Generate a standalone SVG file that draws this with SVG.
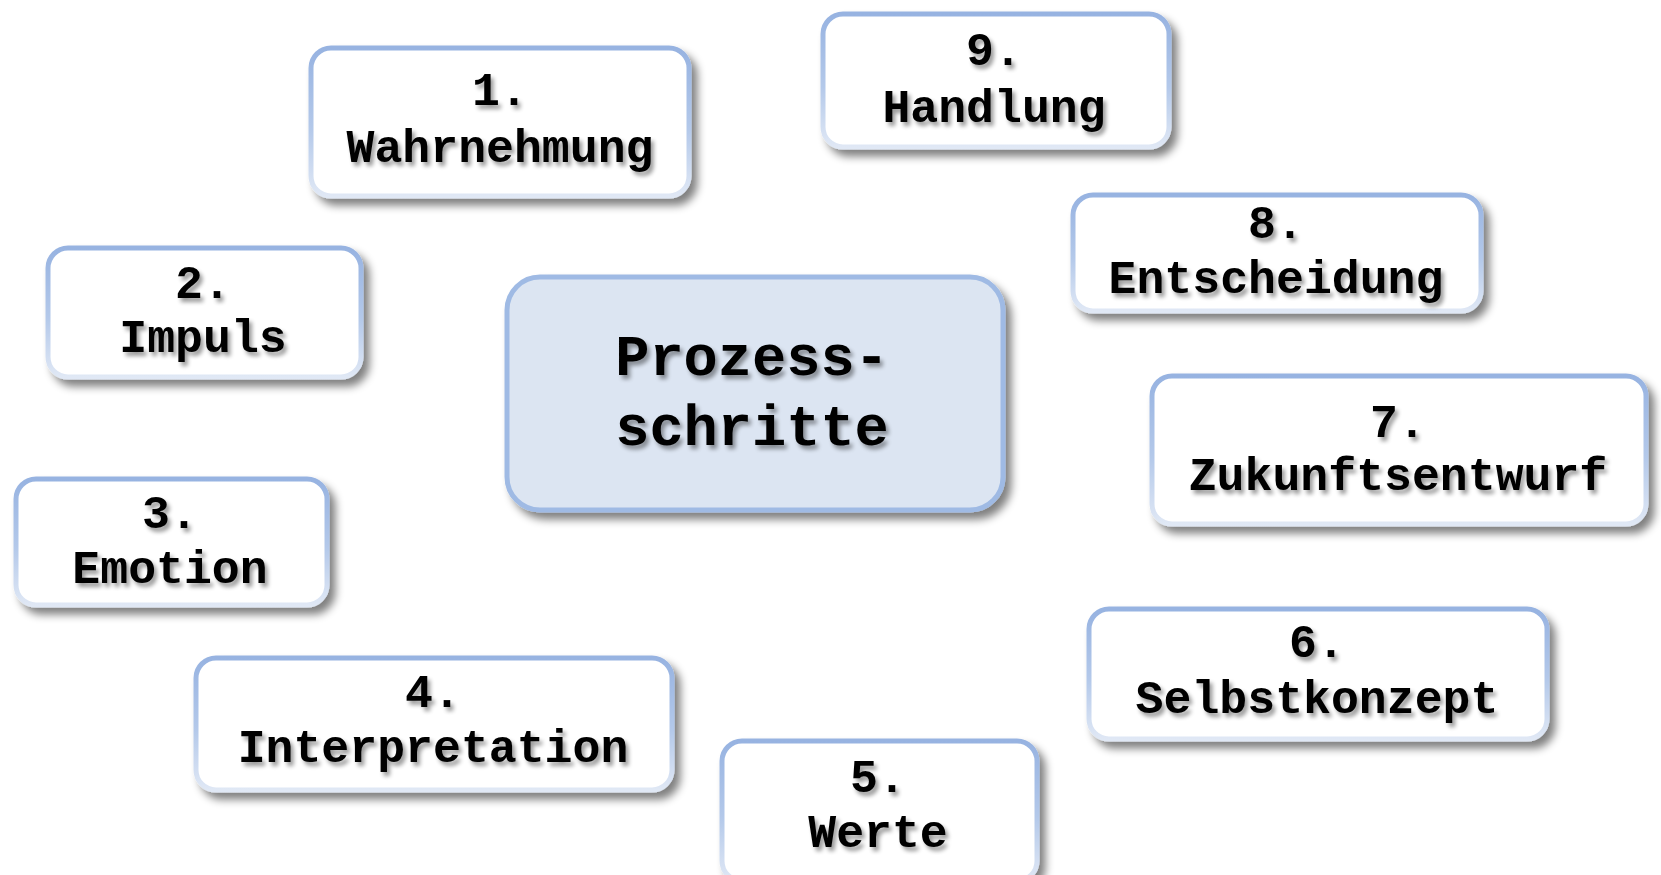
<svg xmlns="http://www.w3.org/2000/svg" width="1661" height="875" viewBox="0 0 1661 875">
<defs>
<linearGradient id="bord" x1="0" y1="0" x2="0" y2="1">
<stop offset="0" stop-color="#97b3e1"/>
<stop offset="0.55" stop-color="#b4c9ea"/>
<stop offset="1" stop-color="#e0e8f5"/>
</linearGradient>
<filter id="boxsh" x="-10%" y="-10%" width="125%" height="130%">
<feGaussianBlur in="SourceAlpha" stdDeviation="4"/>
<feOffset dx="6" dy="7" result="b"/>
<feComponentTransfer><feFuncA type="linear" slope="0.5"/></feComponentTransfer>
<feMerge><feMergeNode/><feMergeNode in="SourceGraphic"/></feMerge>
</filter>
<filter id="txtsh" x="-10%" y="-20%" width="125%" height="150%">
<feGaussianBlur in="SourceAlpha" stdDeviation="2"/>
<feOffset dx="3" dy="4"/>
<feComponentTransfer><feFuncA type="linear" slope="0.4"/></feComponentTransfer>
<feMerge><feMergeNode/><feMergeNode in="SourceGraphic"/></feMerge>
</filter>
</defs>
<style>
.box{fill:#ffffff;stroke:url(#bord);stroke-width:5;filter:url(#boxsh)}
.ctr{fill:#dce5f2;stroke:#9fbae4;stroke-width:5;filter:url(#boxsh)}
.lbl{font-family:"Liberation Mono","Courier New",monospace;font-weight:bold;font-size:46.5px;fill:#000;text-anchor:middle;filter:url(#txtsh)}
.clbl{font-family:"Liberation Mono","Courier New",monospace;font-weight:bold;font-size:57px;fill:#000;text-anchor:middle;filter:url(#txtsh)}
</style>
<rect width="1661" height="875" fill="#ffffff"/>
<g id="connectors"></g>
<g id="center">
<rect class="ctr" x="507" y="277" width="496" height="233" rx="33"/>
<text class="clbl" x="752" y="375">Prozess-</text>
<text class="clbl" x="752" y="445">schritte</text>
</g>
<g id="n1">
<rect class="box" x="311" y="48" width="378" height="148" rx="20"/>
<text class="lbl" x="500" y="105">1.</text>
<text class="lbl" x="500" y="162">Wahrnehmung</text>
</g>
<g id="n2">
<rect class="box" x="48" y="248" width="313" height="129" rx="20"/>
<text class="lbl" x="203" y="298">2.</text>
<text class="lbl" x="203" y="352">Impuls</text>
</g>
<g id="n3">
<rect class="box" x="16" y="479" width="311" height="126" rx="20"/>
<text class="lbl" x="170" y="528">3.</text>
<text class="lbl" x="170" y="583">Emotion</text>
</g>
<g id="n4">
<rect class="box" x="196" y="658" width="476" height="132" rx="20"/>
<text class="lbl" x="433" y="707">4.</text>
<text class="lbl" x="433" y="762">Interpretation</text>
</g>
<g id="n5">
<rect class="box" x="722" y="741" width="315" height="140" rx="20"/>
<text class="lbl" x="878" y="792">5.</text>
<text class="lbl" x="878" y="847">Werte</text>
</g>
<g id="n6">
<rect class="box" x="1089" y="609" width="458" height="130" rx="20"/>
<text class="lbl" x="1317" y="657">6.</text>
<text class="lbl" x="1317" y="713">Selbstkonzept</text>
</g>
<g id="n7">
<rect class="box" x="1152" y="376" width="494" height="148" rx="20"/>
<text class="lbl" x="1398" y="437">7.</text>
<text class="lbl" x="1398" y="490">Zukunftsentwurf</text>
</g>
<g id="n8">
<rect class="box" x="1073" y="195" width="408" height="116" rx="20"/>
<text class="lbl" x="1276" y="238">8.</text>
<text class="lbl" x="1276" y="293">Entscheidung</text>
</g>
<g id="n9">
<rect class="box" x="823" y="14" width="346" height="133" rx="20"/>
<text class="lbl" x="994" y="65">9.</text>
<text class="lbl" x="994" y="122">Handlung</text>
</g>
</svg>
